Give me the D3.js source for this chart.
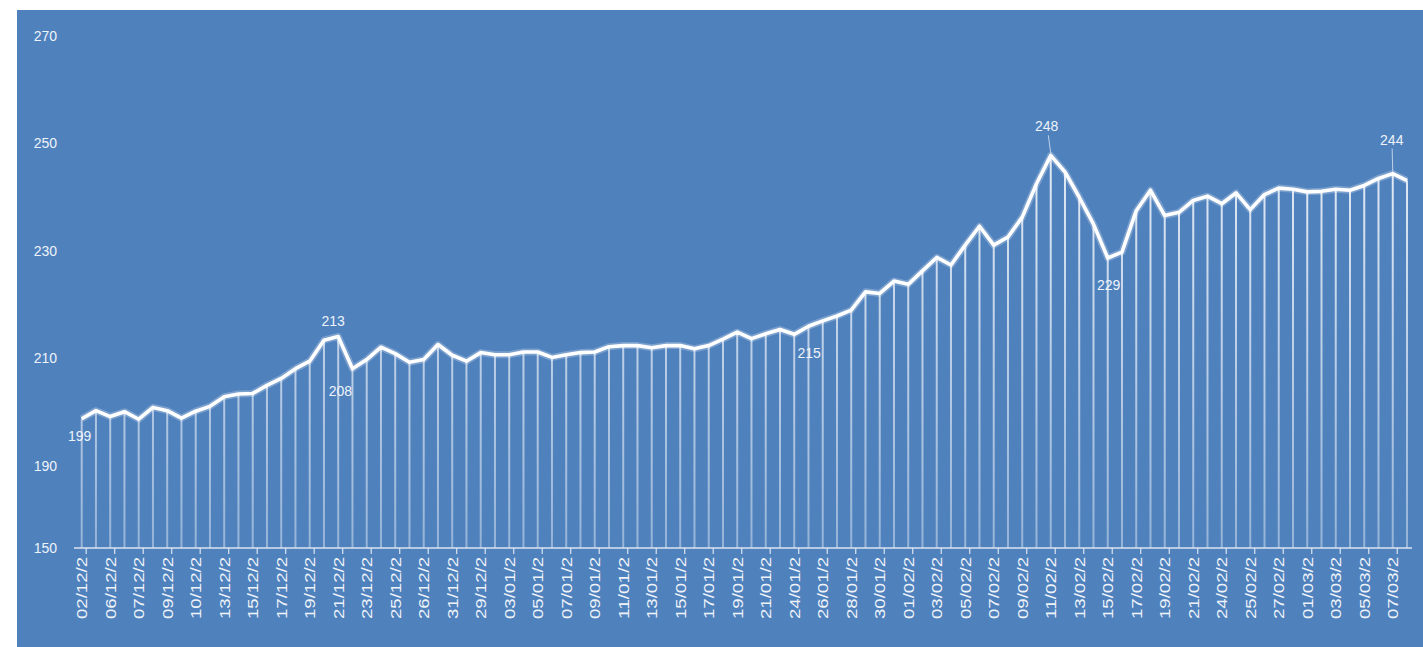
<!DOCTYPE html>
<html><head><meta charset="utf-8">
<script src="https://cdn.jsdelivr.net/npm/d3@7"></script>
<style>html,body{margin:0;padding:0;background:#fff;} svg{display:block}</style>
</head><body>
<svg id="chart" width="1423" height="647"></svg>
<script>
// ---- data ----
const values = [
  198.8,200.3,199.2,200.1,198.7,200.9,200.3,198.9,200.2,201.1,
  202.9,203.4,203.5,205.0,206.3,208.1,209.5,213.4,214.1,208.1,
  209.8,212.1,210.9,209.3,209.8,212.6,210.6,209.5,211.1,210.7,
  210.7,211.2,211.2,210.2,210.7,211.1,211.2,212.2,212.4,212.4,
  212.0,212.4,212.4,211.8,212.4,213.6,214.9,213.7,214.6,215.4,
  214.5,216.0,217.0,217.9,219.0,222.4,222.1,224.4,223.8,226.3,
  228.8,227.4,231.1,234.6,231.1,232.6,236.3,242.5,247.8,244.7,
  240.0,235.0,228.7,229.8,237.5,241.3,236.6,237.2,239.4,240.2,
  238.8,240.8,237.7,240.5,241.7,241.5,241.0,241.1,241.5,241.3,
  242.2,243.5,244.4,243.1
];
const tickLabels = [
  "02/12/2","06/12/2","07/12/2","09/12/2","10/12/2","13/12/2","15/12/2","17/12/2",
  "19/12/2","21/12/2","23/12/2","25/12/2","26/12/2","31/12/2","29/12/2","03/01/2",
  "05/01/2","07/01/2","09/01/2","11/01/2","13/01/2","15/01/2","17/01/2","19/01/2",
  "21/01/2","24/01/2","26/01/2","28/01/2","30/01/2","01/02/2","03/02/2","05/02/2",
  "07/02/2","09/02/2","11/02/2","13/02/2","15/02/2","17/02/2","19/02/2","21/02/2",
  "24/02/2","25/02/2","27/02/2","01/03/2","03/03/2","05/03/2","07/03/2"
];
const yTicks = [150,190,210,230,250,270];
const yBreaks = [150,190,270];
const annotations = [
  {i:0,text:"199"},{i:18,text:"213"},{i:19,text:"208"},{i:50,text:"215"},
  {i:68,text:"248"},{i:72,text:"229"},{i:92,text:"244"}
];

// ---- chart ----
const W = 1423, H = 647;
const svg = d3.select("#chart");
const bg = "#4f81bd", txt = "#eef3f9", font = "'Liberation Sans', Arial, sans-serif";
svg.append("rect").attr("x",17).attr("y",10).attr("width",W-17).attr("height",H-10).attr("fill",bg);

const x = d3.scalePoint().domain(d3.range(values.length)).range([81.7, 1407]);
const y = d3.scaleLinear().domain(yBreaks).range([548,466,36]);
const base = y(150);

const defs = svg.append("defs");
const g = defs.append("linearGradient").attr("id","drop").attr("gradientUnits","userSpaceOnUse")
  .attr("x1",0).attr("x2",0).attr("y1",150).attr("y2",base);
g.append("stop").attr("offset","0%").attr("stop-color","#fff").attr("stop-opacity",0.85);
g.append("stop").attr("offset","100%").attr("stop-color","#fff").attr("stop-opacity",0.4);

// drop lines
svg.append("g").selectAll("line").data(values).join("line")
  .attr("x1",(d,i)=>x(i)).attr("x2",(d,i)=>x(i))
  .attr("y1",d=>y(d)).attr("y2",base)
  .attr("stroke","url(#drop)").attr("stroke-width",2);

// x axis
const xAxis = d3.axisBottom(x)
  .tickValues(d3.range(0, values.length, 2))
  .tickFormat(i => tickLabels[i/2] || "")
  .tickSize(6).tickSizeOuter(0);
const gx = svg.append("g").attr("transform",`translate(0,${base})`).call(xAxis);
gx.select(".domain").remove();
gx.append("line").attr("x1",74).attr("x2",1412).attr("y1",0).attr("y2",0)
  .attr("stroke","#dbe5f1").attr("stroke-width",1.5);
gx.selectAll(".tick line").attr("stroke","#dbe5f1").attr("stroke-width",1.2).attr("x1",4).attr("x2",4);
gx.selectAll(".tick text")
  .attr("fill",txt).attr("font-family",font).attr("font-size",14)
  .attr("transform","rotate(-90)").attr("text-anchor","end")
  .attr("x",-9).attr("y",0).attr("dy","0.35em")
  .attr("textLength",62).attr("lengthAdjust","spacingAndGlyphs");

// y axis (labels only)
const yAxis = d3.axisLeft(y).tickValues(yTicks).tickSize(0);
const gy = svg.append("g").attr("transform","translate(57,0)").call(yAxis);
gy.select(".domain").remove();
gy.selectAll(".tick text").attr("fill",txt).attr("font-family",font).attr("font-size",14).attr("x",0);

// line with soft glow
const line = d3.line().x((d,i)=>x(i)).y(d=>y(d));
svg.append("path").datum(values).attr("d",line).attr("fill","none")
  .attr("stroke","#fff").attr("stroke-opacity",0.25).attr("stroke-width",7).attr("stroke-linejoin","round");
svg.append("path").datum(values).attr("d",line).attr("fill","none")
  .attr("stroke","#fff").attr("stroke-width",3.6).attr("stroke-linejoin","round");

// data labels
const place = {0:[-2,22],18:[-5,-10],19:[-12,27],50:[15,24],68:[-4,-24],72:[1,32],92:[-1,-29]};
const leaders = {68:true, 92:true};
annotations.forEach(a=>{
  const px = x(a.i), py = y(values[a.i]);
  const [dx,dy] = place[a.i] || [0,-10];
  if (leaders[a.i]) {
    svg.append("line").attr("x1",px+dx*0.6).attr("y1",py+dy+4).attr("x2",px).attr("y2",py-2)
      .attr("stroke","#dbe5f1").attr("stroke-width",0.8);
  }
  svg.append("text").attr("x",px+dx).attr("y",py+dy).attr("text-anchor","middle")
    .attr("fill",txt).attr("font-family",font).attr("font-size",14).text(a.text);
});
</script>
</body></html>
